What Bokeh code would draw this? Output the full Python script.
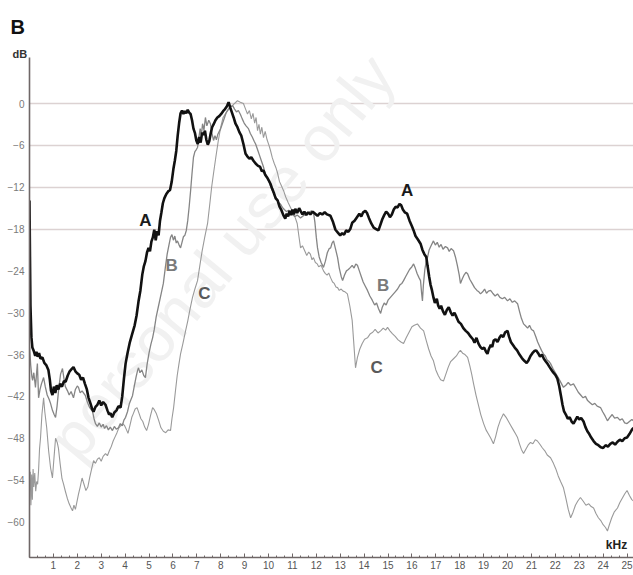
from bokeh.plotting import figure
from bokeh.models import FixedTicker, SingleIntervalTicker, Label, ColumnDataSource, Title
from bokeh.core.properties import value
from bokeh.embed import file_html
from bokeh.resources import INLINE

# ---- data (frequency kHz, level dB) ----
curve_a = [(0.00,-13.9),(0.02,-22),(0.04,-29),(0.08,-33.5),(0.12,-35),(0.18,-35.5),(0.24,-36.2),(0.29,-35.6),(0.34,-36.3),(0.40,-35.8),(0.46,-36.6),(0.54,-36.4),(0.62,-37.2),(0.70,-37.5),(0.79,-38.2),(0.85,-39.6),(0.90,-41.2),(0.96,-41.8),(1.02,-40.6),(1.08,-41.5),(1.14,-40.4),(1.21,-41.0),(1.28,-40.2),(1.36,-40.6),(1.44,-39.8),(1.51,-39.9),(1.60,-39.0),(1.68,-38.4),(1.76,-38.1),(1.84,-37.8),(1.92,-38.4),(2.00,-38.7),(2.08,-38.9),(2.16,-39.6),(2.24,-39.3),(2.32,-40.2),(2.40,-41.0),(2.47,-42.2),(2.55,-43.0),(2.62,-43.8),(2.68,-44.2),(2.76,-43.5),(2.84,-43.2),(2.92,-42.6),(3.00,-43.3),(3.08,-42.8),(3.18,-43.2),(3.26,-44.0),(3.33,-44.6),(3.39,-44.4),(3.46,-45.0),(3.55,-44.3),(3.64,-44.0),(3.72,-43.4),(3.81,-43.6),(3.88,-42.0),(3.95,-39.5),(4.02,-37.3),(4.10,-35.8),(4.20,-34.2),(4.30,-33.0),(4.40,-31.8),(4.48,-30.4),(4.56,-28.4),(4.64,-26.8),(4.72,-24.5),(4.78,-23.4),(4.85,-22.6),(4.92,-21.3),(4.98,-20.7),(5.04,-21.2),(5.10,-19.8),(5.16,-19.2),(5.22,-18.1),(5.28,-19.6),(5.34,-18.3),(5.40,-18.9),(5.46,-16.8),(5.52,-15.6),(5.58,-14.3),(5.64,-13.6),(5.72,-13.0),(5.80,-12.6),(5.88,-12.4),(5.95,-11.2),(6.02,-9.4),(6.08,-8.2),(6.14,-6.8),(6.20,-4.6),(6.26,-2.8),(6.32,-1.4),(6.38,-1.0),(6.44,-1.5),(6.50,-1.1),(6.56,-1.4),(6.62,-0.9),(6.68,-1.3),(6.74,-1.5),(6.80,-2.4),(6.86,-3.6),(6.92,-4.2),(6.98,-5.3),(7.04,-5.8),(7.10,-4.8),(7.16,-5.6),(7.22,-4.2),(7.28,-4.5),(7.34,-3.9),(7.40,-5.2),(7.46,-5.9),(7.52,-5.4),(7.58,-4.3),(7.64,-3.4),(7.70,-3.0),(7.78,-2.4),(7.86,-2.0),(7.94,-1.8),(8.02,-1.5),(8.10,-1.1),(8.18,-0.8),(8.26,-0.4),(8.33,0.2),(8.40,-0.6),(8.46,-1.2),(8.54,-2.0),(8.62,-2.9),(8.70,-3.4),(8.78,-4.1),(8.86,-4.6),(8.95,-5.8),(9.04,-7.2),(9.12,-7.6),(9.20,-7.9),(9.28,-7.7),(9.37,-8.2),(9.46,-8.6),(9.55,-8.9),(9.65,-9.1),(9.72,-9.7),(9.79,-9.6),(9.86,-10.2),(9.94,-10.6),(10.02,-11.1),(10.08,-11.5),(10.15,-12.2),(10.22,-12.8),(10.30,-13.6),(10.38,-13.9),(10.46,-14.8),(10.54,-15.3),(10.62,-16.0),(10.70,-16.5),(10.76,-15.8),(10.82,-16.2),(10.88,-15.4),(10.94,-16.0),(11.00,-15.2),(11.06,-15.9),(11.12,-15.1),(11.20,-15.7),(11.28,-15.0),(11.34,-15.4),(11.42,-15.9),(11.50,-15.5),(11.58,-16.0),(11.66,-15.6),(11.75,-15.9),(11.85,-15.5),(11.95,-15.8),(12.05,-16.1),(12.15,-15.7),(12.25,-15.9),(12.35,-15.6),(12.45,-15.9),(12.59,-16.1),(12.70,-17.0),(12.80,-18.1),(12.90,-18.5),(13.00,-18.9),(13.08,-18.6),(13.16,-18.8),(13.25,-18.2),(13.34,-18.4),(13.42,-18.0),(13.50,-17.1),(13.60,-16.8),(13.70,-16.3),(13.80,-15.8),(13.88,-16.2),(13.96,-15.6),(14.05,-15.4),(14.12,-15.7),(14.20,-16.4),(14.30,-17.2),(14.40,-17.8),(14.50,-18.0),(14.60,-18.2),(14.68,-17.4),(14.76,-16.6),(14.84,-16.0),(14.92,-15.5),(15.00,-15.8),(15.08,-16.3),(15.16,-15.9),(15.24,-15.2),(15.32,-14.8),(15.40,-14.9),(15.48,-14.4),(15.55,-14.6),(15.62,-15.2),(15.70,-15.6),(15.80,-15.8),(15.90,-16.8),(16.00,-17.6),(16.07,-18.2),(16.15,-19.0),(16.25,-19.5),(16.36,-20.1),(16.44,-21.0),(16.52,-21.6),(16.60,-22.0),(16.65,-23.2),(16.72,-24.8),(16.78,-26.0),(16.84,-26.8),(16.90,-27.8),(16.96,-28.6),(17.04,-28.0),(17.10,-29.0),(17.16,-29.4),(17.22,-29.0),(17.30,-29.8),(17.38,-30.3),(17.46,-29.6),(17.54,-29.2),(17.62,-29.9),(17.70,-30.4),(17.78,-30.0),(17.86,-30.6),(17.95,-31.3),(18.05,-31.6),(18.15,-32.2),(18.25,-32.6),(18.35,-32.9),(18.45,-33.4),(18.55,-33.8),(18.62,-34.3),(18.70,-33.6),(18.78,-34.4),(18.86,-34.9),(18.94,-35.2),(19.02,-35.0),(19.10,-35.6),(19.16,-35.9),(19.22,-35.2),(19.30,-34.6),(19.36,-34.9),(19.42,-34.0),(19.50,-33.8),(19.58,-34.2),(19.66,-33.6),(19.74,-33.2),(19.82,-33.5),(19.90,-32.8),(20.00,-32.6),(20.06,-33.4),(20.14,-34.2),(20.22,-34.6),(20.30,-35.0),(20.40,-35.4),(20.50,-36.0),(20.60,-36.5),(20.70,-36.9),(20.80,-37.2),(20.88,-36.8),(20.96,-36.2),(21.04,-35.8),(21.12,-35.5),(21.20,-35.4),(21.28,-35.8),(21.36,-36.3),(21.44,-36.0),(21.52,-36.6),(21.60,-37.0),(21.67,-37.3),(21.76,-37.8),(21.84,-38.2),(21.92,-38.6),(22.00,-38.9),(22.08,-39.4),(22.16,-40.5),(22.24,-42.0),(22.30,-43.2),(22.36,-44.1),(22.44,-44.6),(22.52,-45.2),(22.60,-45.0),(22.68,-45.6),(22.76,-45.9),(22.84,-45.4),(22.92,-44.9),(23.00,-45.3),(23.08,-45.1),(23.18,-45.6),(23.26,-46.4),(23.34,-47.0),(23.42,-47.4),(23.50,-47.9),(23.60,-48.4),(23.70,-48.8),(23.80,-49.0),(23.90,-49.3),(24.00,-49.4),(24.10,-49.0),(24.20,-49.2),(24.30,-48.8),(24.40,-48.6),(24.50,-48.9),(24.60,-48.5),(24.70,-48.2),(24.80,-48.4),(24.90,-48.0),(25.00,-47.9),(25.10,-47.4),(25.20,-46.8),(25.27,-46.5)]

curve_b = [(0.00,-34.7),(0.05,-37.5),(0.10,-39.2),(0.13,-39.7),(0.18,-38.6),(0.25,-40.7),(0.30,-38.5),(0.33,-37.3),(0.38,-42.2),(0.44,-41.0),(0.50,-40.2),(0.59,-39.3),(0.66,-40.6),(0.74,-41.8),(0.82,-42.4),(0.88,-43.0),(0.96,-44.0),(1.03,-44.6),(1.09,-45.0),(1.15,-43.5),(1.22,-41.0),(1.30,-38.8),(1.38,-38.0),(1.44,-39.4),(1.50,-40.6),(1.59,-41.2),(1.66,-41.8),(1.74,-41.3),(1.84,-42.2),(1.92,-41.0),(2.00,-40.5),(2.05,-40.7),(2.12,-41.5),(2.20,-41.2),(2.28,-41.6),(2.34,-41.9),(2.42,-42.8),(2.50,-43.5),(2.58,-43.9),(2.64,-44.2),(2.70,-45.2),(2.76,-45.9),(2.84,-46.3),(2.92,-45.8),(3.00,-46.4),(3.08,-46.0),(3.14,-46.6),(3.22,-46.2),(3.30,-46.8),(3.38,-46.4),(3.47,-46.9),(3.55,-46.3),(3.63,-46.7),(3.72,-46.5),(3.80,-45.9),(3.88,-46.2),(3.95,-45.4),(4.02,-45.0),(4.10,-44.2),(4.18,-43.0),(4.25,-42.4),(4.31,-41.9),(4.38,-40.6),(4.46,-39.2),(4.52,-38.3),(4.56,-37.9),(4.62,-38.6),(4.70,-38.2),(4.78,-39.0),(4.85,-39.3),(4.92,-37.4),(5.00,-35.8),(5.08,-34.5),(5.15,-33.6),(5.22,-32.4),(5.30,-30.6),(5.40,-29.0),(5.50,-27.4),(5.60,-25.8),(5.68,-23.6),(5.76,-21.6),(5.84,-20.2),(5.90,-19.2),(5.96,-18.8),(6.02,-19.6),(6.08,-19.0),(6.14,-20.0),(6.19,-19.7),(6.26,-20.3),(6.32,-20.7),(6.38,-19.9),(6.44,-19.1),(6.50,-18.9),(6.56,-18.2),(6.62,-16.8),(6.68,-14.8),(6.74,-12.5),(6.80,-10.0),(6.86,-7.7),(6.92,-6.9),(6.98,-6.6),(7.03,-6.3),(7.08,-5.0),(7.14,-3.6),(7.19,-4.6),(7.24,-2.9),(7.30,-3.8),(7.36,-2.0),(7.42,-3.2),(7.50,-2.4),(7.57,-2.9),(7.63,-4.2),(7.70,-5.3),(7.76,-4.6),(7.82,-5.2),(7.88,-4.4),(7.94,-4.0),(8.00,-3.6),(8.08,-2.8),(8.16,-2.0),(8.22,-1.4),(8.28,-1.0),(8.36,-0.6),(8.44,-0.4),(8.50,-0.3),(8.58,-0.8),(8.66,-1.2),(8.74,-1.0),(8.83,-1.6),(8.90,-2.2),(8.98,-2.8),(9.06,-3.2),(9.16,-3.6),(9.24,-4.3),(9.32,-4.8),(9.40,-5.4),(9.46,-5.8),(9.54,-6.6),(9.62,-7.4),(9.70,-8.2),(9.78,-9.0),(9.86,-10.0),(9.94,-10.6),(10.02,-11.2),(10.10,-12.0),(10.18,-12.6),(10.26,-13.2),(10.34,-13.6),(10.42,-14.2),(10.50,-14.4),(10.58,-14.9),(10.66,-15.2),(10.75,-15.5),(10.84,-15.3),(10.92,-15.6),(11.00,-15.9),(11.10,-16.2),(11.20,-16.0),(11.34,-16.4),(11.46,-16.1),(11.58,-15.8),(11.70,-15.6),(11.80,-15.4),(11.88,-15.6),(11.94,-17.0),(12.00,-19.2),(12.05,-20.7),(12.12,-22.0),(12.20,-22.8),(12.30,-23.5),(12.38,-22.6),(12.46,-21.4),(12.54,-20.8),(12.60,-20.7),(12.66,-20.0),(12.72,-19.7),(12.80,-20.8),(12.89,-22.1),(12.96,-23.6),(13.04,-24.8),(13.10,-25.4),(13.18,-24.6),(13.26,-24.0),(13.34,-23.8),(13.43,-23.5),(13.50,-23.2),(13.58,-23.6),(13.65,-23.0),(13.72,-23.2),(13.80,-24.0),(13.88,-24.8),(13.96,-25.6),(14.05,-26.2),(14.14,-26.8),(14.24,-27.6),(14.34,-28.2),(14.44,-28.9),(14.52,-28.6),(14.60,-29.4),(14.69,-30.1),(14.76,-29.2),(14.84,-28.6),(14.92,-28.9),(15.00,-28.2),(15.10,-27.8),(15.20,-27.4),(15.30,-27.0),(15.40,-26.6),(15.50,-26.0),(15.58,-25.8),(15.65,-25.4),(15.74,-24.8),(15.82,-24.3),(15.90,-23.8),(16.00,-23.4),(16.07,-23.0),(16.14,-23.6),(16.22,-24.4),(16.30,-25.0),(16.36,-25.4),(16.40,-27.0),(16.44,-28.3),(16.48,-26.0),(16.54,-23.8),(16.60,-22.6),(16.65,-22.1),(16.72,-21.0),(16.80,-20.4),(16.90,-19.7),(16.98,-20.3),(17.06,-19.9),(17.14,-20.6),(17.22,-20.2),(17.30,-20.9),(17.40,-20.5),(17.49,-20.7),(17.56,-21.2),(17.64,-20.8),(17.74,-21.1),(17.82,-22.0),(17.90,-23.2),(17.98,-24.6),(18.03,-25.8),(18.10,-25.2),(18.18,-24.6),(18.26,-24.2),(18.33,-24.4),(18.42,-25.2),(18.52,-25.8),(18.62,-26.4),(18.72,-26.8),(18.80,-27.0),(18.87,-27.3),(18.96,-27.0),(19.04,-26.6),(19.12,-27.2),(19.20,-26.9),(19.29,-26.8),(19.38,-27.2),(19.48,-27.6),(19.58,-27.3),(19.68,-27.8),(19.78,-28.0),(19.88,-27.8),(20.00,-28.3),(20.10,-28.0),(20.20,-28.5),(20.30,-28.3),(20.42,-28.7),(20.50,-29.8),(20.58,-30.8),(20.67,-31.6),(20.76,-31.9),(20.84,-32.2),(20.92,-31.8),(21.00,-32.4),(21.09,-32.6),(21.18,-33.4),(21.26,-34.2),(21.34,-34.8),(21.42,-35.4),(21.50,-35.9),(21.58,-36.2),(21.66,-36.8),(21.74,-37.0),(21.80,-37.3),(21.90,-38.0),(22.00,-38.6),(22.10,-39.2),(22.20,-39.8),(22.34,-40.7),(22.44,-40.4),(22.54,-40.0),(22.64,-40.4),(22.76,-40.2),(22.86,-40.8),(22.96,-41.4),(23.06,-41.8),(23.16,-42.2),(23.26,-42.0),(23.35,-42.6),(23.45,-42.9),(23.55,-43.2),(23.65,-43.0),(23.75,-43.4),(23.89,-43.6),(23.98,-44.2),(24.08,-44.8),(24.18,-45.5),(24.28,-45.0),(24.38,-44.6),(24.48,-45.1),(24.60,-45.0),(24.70,-45.4),(24.80,-45.2),(24.90,-45.8),(25.00,-45.9),(25.10,-45.6),(25.20,-45.3),(25.27,-45.5)]

curve_c = [(0.00,-55.5),(0.03,-52.8),(0.06,-57.6),(0.09,-53.2),(0.12,-56.8),(0.15,-52.4),(0.18,-55.0),(0.22,-53.0),(0.26,-55.6),(0.30,-54.2),(0.34,-54.6),(0.38,-52.6),(0.42,-49.5),(0.46,-48.0),(0.52,-44.6),(0.59,-42.2),(0.64,-44.2),(0.72,-46.5),(0.80,-49.8),(0.88,-52.2),(0.96,-53.7),(1.02,-51.0),(1.09,-48.0),(1.16,-48.6),(1.21,-49.4),(1.28,-51.6),(1.36,-53.8),(1.42,-54.5),(1.50,-55.6),(1.58,-56.6),(1.66,-57.4),(1.74,-58.0),(1.80,-58.4),(1.86,-57.6),(1.92,-58.2),(1.98,-57.2),(2.05,-56.0),(2.12,-55.0),(2.20,-53.7),(2.28,-54.6),(2.36,-55.5),(2.44,-55.0),(2.52,-53.6),(2.60,-52.4),(2.68,-51.2),(2.76,-51.6),(2.84,-51.0),(2.92,-50.8),(3.00,-51.3),(3.08,-50.6),(3.18,-50.2),(3.26,-50.5),(3.34,-49.8),(3.42,-49.2),(3.50,-48.4),(3.58,-47.8),(3.66,-47.2),(3.74,-46.5),(3.82,-46.2),(3.90,-45.9),(3.98,-46.2),(4.06,-46.8),(4.12,-47.3),(4.20,-46.2),(4.28,-45.0),(4.34,-44.5),(4.42,-43.8),(4.50,-43.6),(4.58,-44.4),(4.66,-45.2),(4.74,-45.6),(4.82,-46.4),(4.90,-46.9),(4.98,-46.0),(5.06,-44.8),(5.15,-43.6),(5.22,-43.9),(5.30,-44.4),(5.40,-45.4),(5.50,-46.5),(5.60,-47.0),(5.70,-47.2),(5.80,-46.8),(5.90,-46.9),(5.96,-45.2),(6.03,-43.6),(6.10,-41.4),(6.18,-39.0),(6.25,-37.4),(6.32,-35.9),(6.42,-34.4),(6.53,-32.6),(6.62,-31.2),(6.72,-29.4),(6.82,-27.8),(6.92,-26.6),(7.03,-25.4),(7.12,-23.4),(7.22,-21.2),(7.33,-19.2),(7.45,-17.2),(7.55,-14.2),(7.62,-12.0),(7.70,-10.0),(7.80,-7.6),(7.90,-5.3),(8.00,-3.4),(8.10,-2.0),(8.25,-1.2),(8.40,-0.6),(8.55,-0.1),(8.70,0.4),(8.82,0.2),(8.95,0.0),(9.04,-0.8),(9.12,-1.5),(9.20,-1.0),(9.28,-2.2),(9.35,-1.4),(9.42,-2.8),(9.48,-2.0),(9.54,-3.9),(9.60,-3.0),(9.66,-4.4),(9.72,-3.4),(9.79,-4.9),(9.86,-4.0),(9.94,-5.2),(10.02,-6.0),(10.08,-6.7),(10.16,-7.8),(10.24,-8.6),(10.31,-9.2),(10.38,-10.0),(10.46,-11.2),(10.54,-11.8),(10.63,-12.5),(10.72,-13.4),(10.82,-14.2),(10.92,-14.9),(11.02,-15.6),(11.12,-16.4),(11.20,-17.2),(11.27,-19.0),(11.34,-20.7),(11.42,-20.4),(11.50,-21.0),(11.60,-21.8),(11.68,-21.3),(11.75,-21.6),(11.82,-22.4),(11.88,-22.1),(11.96,-22.8),(12.04,-23.0),(12.10,-23.4),(12.20,-23.2),(12.30,-24.0),(12.38,-24.4),(12.45,-24.6),(12.52,-24.3),(12.60,-25.0),(12.68,-25.6),(12.75,-25.8),(12.82,-26.3),(12.89,-26.4),(12.96,-26.8),(13.04,-26.6),(13.12,-26.9),(13.20,-27.0),(13.30,-27.3),(13.40,-29.0),(13.50,-31.1),(13.56,-34.0),(13.64,-37.9),(13.72,-36.4),(13.82,-35.2),(13.92,-34.4),(14.02,-33.8),(14.14,-33.6),(14.26,-33.0),(14.36,-32.8),(14.46,-32.4),(14.58,-32.9),(14.69,-32.6),(14.80,-32.2),(14.90,-32.5),(14.98,-32.1),(15.08,-32.6),(15.18,-33.0),(15.30,-33.4),(15.42,-33.9),(15.54,-34.2),(15.65,-34.4),(15.76,-33.6),(15.88,-32.8),(16.00,-32.0),(16.10,-31.8),(16.23,-31.6),(16.36,-32.2),(16.49,-32.6),(16.60,-34.0),(16.70,-35.2),(16.80,-36.2),(16.90,-36.9),(17.00,-38.2),(17.10,-39.0),(17.20,-39.6),(17.32,-39.8),(17.42,-38.8),(17.52,-37.8),(17.62,-37.0),(17.74,-36.6),(17.86,-36.2),(17.95,-35.7),(18.03,-35.4),(18.12,-35.8),(18.22,-36.0),(18.33,-36.4),(18.42,-37.6),(18.50,-38.8),(18.58,-40.2),(18.68,-41.8),(18.78,-43.2),(18.88,-44.6),(19.00,-45.9),(19.10,-46.8),(19.20,-47.4),(19.30,-48.0),(19.41,-48.8),(19.50,-47.8),(19.60,-46.4),(19.70,-45.4),(19.83,-44.5),(19.94,-45.0),(20.04,-45.6),(20.14,-46.2),(20.24,-46.8),(20.34,-47.4),(20.42,-47.9),(20.50,-48.8),(20.58,-49.6),(20.67,-50.2),(20.76,-49.6),(20.86,-49.0),(20.96,-48.6),(21.06,-48.8),(21.16,-48.2),(21.25,-48.4),(21.36,-48.9),(21.46,-49.4),(21.56,-49.8),(21.66,-50.4),(21.80,-50.8),(21.92,-51.6),(22.02,-52.4),(22.12,-53.4),(22.22,-54.2),(22.34,-55.1),(22.44,-56.6),(22.54,-58.2),(22.64,-59.4),(22.74,-58.6),(22.84,-57.6),(22.94,-57.0),(23.05,-56.5),(23.16,-57.0),(23.28,-57.6),(23.40,-57.4),(23.50,-57.8),(23.60,-58.0),(23.70,-58.8),(23.80,-59.4),(23.90,-59.8),(24.00,-60.4),(24.10,-60.8),(24.18,-61.3),(24.26,-60.4),(24.36,-59.4),(24.46,-58.6),(24.60,-58.0),(24.70,-57.2),(24.80,-56.6),(24.90,-56.0),(25.00,-55.5),(25.10,-56.2),(25.20,-56.8),(25.27,-57.0)]

y_ticks = [0, -6, -12, -18, -24, -30, -36, -42, -48, -54, -60]
grid_levels = [0, -6, -12, -18]

label_text = ["A", "A", "B", "B", "C", "C"]
label_freq = [4.85, 15.8, 5.95, 14.8, 7.32, 14.52]
label_db = [-16.8, -12.5, -23.2, -26.1, -27.3, -37.9]

unit_x_text = ["kHz"]
unit_x_freq = [24.56]
unit_x_db = [-63.3]

# ---- figure ----
p = figure(width=633, height=575, x_range=(0, 25.27), y_range=(-65.1, 6.6),
           output_backend="svg", toolbar_location=None,
           min_border_left=29, min_border_right=0, min_border_top=57, min_border_bottom=18)
p.outline_line_color = None
p.background_fill_color = "white"
p.border_fill_color = "white"

# y unit "dB" (closest to the frame), then panel letter "B" above it
p.add_layout(Title(text="dB", align="left", offset=-17, standoff=-4,
                   text_font="Liberation Sans", text_font_size="11px",
                   text_font_style="bold", text_color="#333333"), "above")
p.add_layout(Title(text="B", align="left", offset=-19, standoff=19,
                   text_font="Liberation Sans", text_font_size="20px",
                   text_font_style="bold", text_color="#111111"), "above")

# watermark
p.add_layout(Label(x=352, y=494, x_units="screen", y_units="screen",
                   text="personal use only", angle=0.88, text_align="right",
                   text_baseline="alphabetic", text_font="Liberation Sans",
                   text_font_size="64px", text_color="#f1f1f1", level="underlay"))

p.xgrid.visible = False
p.ygrid.ticker = FixedTicker(ticks=grid_levels)
p.ygrid.grid_line_color = "#dcd2d2"
p.ygrid.grid_line_width = 1.5

for ax in (p.xaxis[0], p.yaxis[0]):
    ax.axis_line_color = "#6f6767"
    ax.axis_line_width = 1.6
    ax.major_label_text_font = "Liberation Sans"
    ax.major_label_text_font_size = "10px"

p.xaxis.ticker = SingleIntervalTicker(interval=1, num_minor_ticks=3)
p.xaxis.major_label_overrides = {0: ""}
p.xaxis.major_tick_in = 4
p.xaxis.major_tick_out = 0
p.xaxis.minor_tick_in = 2
p.xaxis.minor_tick_out = 0
p.xaxis.major_tick_line_color = "#6f6767"
p.xaxis.minor_tick_line_color = "#6f6767"
p.xaxis.major_label_standoff = 3
p.xaxis.major_label_text_color = "#555555"

p.yaxis.ticker = FixedTicker(ticks=y_ticks)
p.yaxis.major_tick_line_color = None
p.yaxis.minor_tick_line_color = None
p.yaxis.major_tick_in = 0
p.yaxis.major_tick_out = 0
p.yaxis.minor_tick_in = 0
p.yaxis.minor_tick_out = 0
p.yaxis.major_label_standoff = 5
p.yaxis.major_label_text_color = "#7a7a7a"

def split(pts):
    return [a for a, _ in pts], [b for _, b in pts]

cx, cy = split(curve_c)
bx, by = split(curve_b)
ax_, ay = split(curve_a)
p.line(cx, cy, line_color="#9a9a9a", line_width=1.1)
p.line(bx, by, line_color="#858585", line_width=1.3)
p.line(ax_, ay, line_color="#111111", line_width=2.6)

colors = ["#1a1a1a", "#1a1a1a", "#7a7a7a", "#7a7a7a", "#5a5a5a", "#5a5a5a"]
src = ColumnDataSource(dict(x=label_freq, y=label_db, t=label_text, c=colors))
p.text(x="x", y="y", text="t", source=src, text_color="c",
       text_font=value("Liberation Sans"), text_font_size="17px",
       text_font_style="bold", text_align="center", text_baseline="middle")

p.text(x=unit_x_freq, y=unit_x_db, text=unit_x_text, text_color="#222222",
       text_font=value("Liberation Sans"), text_font_size="12px",
       text_font_style="bold", text_align="center", text_baseline="middle")

open("out.html", "w").write(file_html(p, INLINE))
